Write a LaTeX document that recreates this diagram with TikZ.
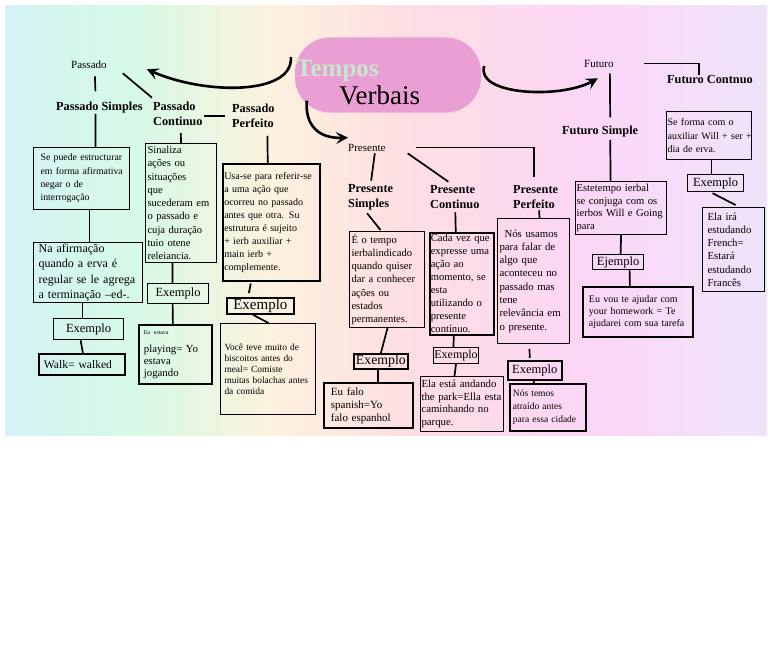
\documentclass[tikz,border=0pt]{standalone}
\usepackage{fontspec}
\setmainfont{Liberation Serif}
\usetikzlibrary{calc,arrows.meta}

\definecolor{washA}{RGB}{212,242,245}
\definecolor{washB}{RGB}{214,250,230}
\definecolor{washC}{RGB}{252,242,222}
\definecolor{washD}{RGB}{253,222,226}
\definecolor{washE}{RGB}{252,214,246}
\definecolor{washF}{RGB}{238,228,250}
\definecolor{blobpink}{RGB}{233,158,212}
\definecolor{mint}{RGB}{200,232,202}

\pgfdeclarehorizontalshading{wash}{100bp}{color(0bp)=(washA); color(25bp)=(washA); color(33.5bp)=(washB); color(42.5bp)=(washC); color(51bp)=(washD); color(63bp)=(washE); color(75bp)=(washF); color(100bp)=(washF)}

\begin{document}
\begin{tikzpicture}[x=1pt,y=1pt,yscale=-1,
		heading/.style={inner sep=1pt, align=left, font=\bfseries\fontsize{12.3}{15}\selectfont},
		branch/.style={inner sep=1pt, font=\fontsize{11}{13}\selectfont},
		card/.style={draw, anchor=north west, align=left, line width=1pt, inner xsep=2pt, inner ysep=1pt, font=\fontsize{10.6}{13.3}\selectfont},
		exbox/.style={draw, anchor=north west, line width=1.2pt, inner sep=0pt, font=\fontsize{12.5}{14}\selectfont},
		link/.style={line width=1.7pt},
		bigarrow/.style={line width=2.6pt, -{Stealth[length=12pt,width=12pt,inset=5pt]}},
		titleblob/.style={fill=blobpink, rounded corners=35pt, minimum width=186pt, minimum height=75pt, inner sep=0pt}]

		% Set the page size and the coloured wash behind the map
		\useasboundingbox (0,0) rectangle (768,669);
		\fill[white] (0,0) rectangle (768,669);
		\shade[shading=wash] (5,6) rectangle (767,435);

		% Draw the pink title blob and its two words
		\node[titleblob] (title) at (388,75) {};
		\node[anchor=base west, inner sep=0pt, text=mint, font=\bfseries\fontsize{25}{28}\selectfont] (tempos) at (296,76) {Tempos};
		\node[anchor=base west, inner sep=0pt, font=\fontsize{27}{30}\selectfont] (verbais) at (339,104) {Verbais};

		% The labels of the "Passado" branch
		\node[branch, anchor=base west] (passado) at (70,69) {Passado};
		\node[heading, anchor=base west] (psimp) at (55,110) {Passado Simples};
		\node[heading, anchor=north west] (pcont) at (152,100.7) {Passado\\Continuo};
		\node[heading, anchor=north west] (pperf) at (231,102.7) {Passado\\Perfeito};

		% The boxes below "Passado Simples"
		\node[card, line width=1.2pt, text width=92pt, inner xsep=2pt, minimum height=62pt, font=\fontsize{9.8}{13.3}\selectfont] (ps_def) at (33,147) {\hspace*{5pt}Se puede estructurar\\\hspace*{5pt}em forma afirmativa\\\hspace*{5pt}negar o de\\\hspace*{5pt}interrogação};
		\node[card, line width=1.2pt, text width=99pt, inner xsep=5pt, minimum height=60pt, font=\fontsize{12}{15.4}\selectfont] (ps_rule) at (33,242) {Na afirmação\\quando a erva é\\regular se le agrega\\a terminação --ed-.};
		\node[exbox, minimum width=70pt, minimum height=21pt] (ps_ex) at (53,318) {Exemplo};
		\node[card, line width=1.8pt, text width=76pt, inner xsep=5pt, minimum height=21pt, font=\fontsize{11.6}{14}\selectfont] (ps_walk) at (38,353) {Walk= walked};

		% The boxes below "Passado Continuo"
		\node[card, text width=67pt, minimum height=119pt] (pc_def) at (145,143) {Sinaliza\\ações ou\\situações\\que\\sucederam em\\o passado e\\cuja duração\\tuio otene\\releiancia.};
		\node[exbox, minimum width=61pt, minimum height=20pt] (pc_ex) at (147,283) {Exemplo};
		\node[card, line width=1.8pt, text width=63pt, inner xsep=5pt, minimum height=59pt, font=\fontsize{10.8}{12}\selectfont] (pc_walk) at (138,324) {{\fontsize{5.8}{7}\selectfont Eu estava}\\[6pt]playing= Yo\\estava\\jogando};

		% The boxes below "Passado Perfeito"
		\node[card, line width=1.5pt, text width=94pt, inner xsep=1.5pt, minimum height=117pt, font=\fontsize{10}{13}\selectfont] (pp_def) at (222,163) {Usa-se para referir-se\\a uma ação que\\ocorreu no passado\\antes que otra. Su\\estrutura é sujeito\\+ ierb auxiliar +\\main ierb +\\complemente.};
		\node[exbox, line width=1.8pt, minimum width=67pt, minimum height=16pt, font=\fontsize{15}{16}\selectfont] (pp_ex) at (226,297) {Exemplo};
		\node[card, text width=87pt, inner xsep=4pt, minimum height=91pt, font=\fontsize{9.4}{11}\selectfont] (pp_walk) at (220,323) {Você teve muito de\\biscoitos antes do\\meal= Comiste\\muitas bolachas antes\\da comida};

		% The labels of the "Presente" branch
		\node[branch, anchor=base west] (presente) at (347,151) {Presente};
		\node[heading, anchor=north west] (prsimp) at (347,183.7) {Presente\\Simples};
		\node[heading, anchor=north west] (prcont) at (429,184.7) {Presente\\Continuo};
		\node[heading, anchor=north west] (prperf) at (512,184.7) {Presente\\Perfeito};

		% The boxes below "Presente Simples"
		\node[card, text width=71pt, minimum height=96pt] (prs_def) at (349,231) {É o tempo\\ierbalindicado\\quando quiser\\dar a conhecer\\ações ou\\estados\\permanentes.};
		\node[exbox, line width=1.8pt, minimum width=54pt, minimum height=15pt, font=\fontsize{13.8}{15}\selectfont] (prs_ex) at (353,353) {Exemplo};
		\node[card, line width=1.8pt, text width=75pt, inner xsep=7pt, minimum height=45pt, font=\fontsize{11}{13}\selectfont] (prs_walk) at (323,382) {Eu falo\\spanish=Yo\\falo espanhol};

		% The boxes below "Presente Continuo"
		\node[card, line width=1.5pt, text width=62pt, inner xsep=1pt, minimum height=102pt, font=\fontsize{10.6}{13}\selectfont] (prc_def) at (429,232) {Cada vez que\\expresse uma\\ação ao\\momento, se\\esta\\utilizando o\\presente\\contínuo.};
		\node[exbox, line width=1pt, minimum width=45pt, minimum height=16pt, font=\fontsize{12}{14}\selectfont] (prc_ex) at (433,347) {Exemplo};
		\node[card, text width=81pt, inner xsep=1pt, minimum height=55pt, font=\fontsize{10.8}{12.5}\selectfont] (prc_walk) at (420,376) {Ela está andando\\the park=Ella esta\\caminhando no\\parque.};

		% The boxes below "Presente Perfeito"
		\node[card, text width=68pt, minimum height=125pt, font=\fontsize{10.8}{13.3}\selectfont] (prp_def) at (497,218) {\hspace*{5pt}Nós usamos\\para falar de\\algo que\\aconteceu no\\passado mas\\tene\\relevância em\\o presente.};
		\node[exbox, line width=1.5pt, minimum width=54pt, minimum height=19pt] (prp_ex) at (507,360) {Exemplo};
		\node[card, line width=1.8pt, text width=70pt, inner xsep=3pt, minimum height=47pt, font=\fontsize{9.5}{13.3}\selectfont] (prp_walk) at (509,383) {Nós temos\\atraído antes\\para essa cidade};

		% The labels of the "Futuro" branch
		\node[branch, anchor=base west] (futuro) at (583,67) {Futuro};
		\node[heading, anchor=base west] (fcont) at (666,84) {Futuro Contnuo};
		\node[heading, anchor=base west] (fsimp) at (561,134) {Futuro Simple};

		% The boxes below "Futuro Simple"
		\node[card, line width=1.2pt, text width=89pt, inner xsep=1pt, minimum height=53pt, font=\fontsize{10.6}{12.6}\selectfont] (fs_def) at (575,181) {Estetempo ierbal\\se conjuga com os\\ierbos Will e Going\\para};
		\node[exbox, minimum width=51pt, minimum height=15pt] (fs_ex) at (592,254) {Ejemplo};
		\node[card, line width=1.8pt, text width=98pt, inner xsep=6pt, minimum height=50pt, font=\fontsize{10}{12}\selectfont] (fs_walk) at (582,286) {Eu vou te ajudar com\\your homework = Te\\ajudarei com sua tarefa};

		% The boxes below "Futuro Contnuo"
		\node[card, line width=1.2pt, text width=83pt, inner xsep=1pt, minimum height=48pt, font=\fontsize{10}{13.3}\selectfont] (fc_def) at (666,111) {Se forma com o\\\mbox{auxiliar Will + ser +}\\dia de erva.};
		\node[exbox, minimum width=56pt, minimum height=17pt] (fc_ex) at (687,174) {Exemplo};
		\node[card, line width=1.2pt, text width=52pt, inner xsep=5pt, minimum height=84pt, font=\fontsize{10.8}{13.3}\selectfont] (fc_walk) at (702,207) {Ela irá\\estudando\\French=\\Estará\\estudando\\Francês};

		% Draw the three curved arrows leaving the title
		\draw[bigarrow] ($(title.west)+(-4,-18)$) .. controls +(3,38) and +(59,26) .. ($(passado.east)+(39,4)$);
		\draw[bigarrow] ($(title.east)+(3,-9)$) .. controls +(-9,29) and +(-38,21) .. ($(futuro.south)+(-1,10)$);
		\draw[bigarrow] ($(title.south west)+(12,-12)$) .. controls +(-2,25) and +(-29,1) .. ($(presente.north west)+(1,-5)$);

		% Connectors of the "Passado" branch
		\draw[link] ($(passado.south)+(6,6)$) -- ($(psimp.north)+(-4,-9)$);
		\draw[link] ($(passado.south east)+(15,3)$) -- ($(pcont.north west)+(0,-3)$);
		\draw[link] (pcont.east |- pperf.west) -- ($(pperf.west)+(-6,0)$);
		\draw[link] ($(psimp.south)+(-4,0)$) -- ($(ps_def.north)+(14,0)$);
		\draw[link] ($(ps_def.south)+(8,0)$) -- ($(ps_rule.north)+(1.5,0)$);
		\draw[link] ($(ps_rule.south)+(-5.5,0)$) -- ($(ps_ex.north)+(-6,0)$);
		\draw[link] ($(ps_ex.south)+(-8,0)$) -- ($(ps_walk.north)+(1,0)$);
		\draw[link] ($(pcont.south)+(3,6)$) -- (pc_def.north);
		\draw[link] ($(pc_def.south)+(-8.5,0)$) -- ($(pc_ex.north)+(-5.5,0)$);
		\draw[link] ($(pc_ex.south)+(-5.5,0)$) -- ($(pc_walk.north)+(-2.5,0)$);
		\draw[link] ($(pperf.south)+(14,7)$) -- ($(pp_def.north)+(-3.5,0)$);
		\draw[link] ($(pp_def.south)+(-20.5,2)$) -- ($(pp_ex.north)+(-11.5,-4)$);
		\draw[link] ($(pp_ex.south)+(-7.5,0)$) -- ($(pp_walk.north)+(0.5,0)$);

		% Connectors of the "Presente" branch
		\draw[link] ($(presente.south)+(8,1)$) -- ($(prsimp.north)+(0.5,-3)$);
		\draw[link] ($(presente.south east)+(21,1)$) -- ($(prcont.north)+(-6.5,-3)$);
		\draw[link] ($(presente.east)+(29,0)$) -| ($(prperf.north)+(-1.5,-8)$);
		\draw[link] ($(prsimp.south)+(-3.5,1.5)$) -- ($(prs_def.north)+(-6.5,-1)$);
		\draw[link] ($(prs_def.south)+(0.5,0)$) -- (prs_ex.north);
		\draw[link] ($(prs_ex.south)+(-3,0)$) -- ($(prs_walk.north)+(9.5,0)$);
		\draw[link] ($(prcont.south)+(0.5,2)$) -- ($(prc_def.north)+(-6,0)$);
		\draw[link] ($(prc_def.south)+(-8,0)$) -- ($(prc_ex.north)+(-2.5,0)$);
		\draw[link] (prc_ex.south) -- ($(prc_walk.north)+(-7.5,0)$);
		\draw[link] ($(prperf.south)+(3.5,0)$) -- ($(prp_def.north)+(6,0)$);
		\draw[link] ($(prp_def.south)+(-4,5)$) -- ($(prp_ex.north)+(-5,-2)$);
		\draw[link] ($(prp_ex.south)+(-1,0)$) -- ($(prp_walk.north)+(-14,0)$);

		% Connectors of the "Futuro" branch
		\draw[link] ($(futuro.south)+(11,5)$) -- ($(fsimp.north)+(10,-7)$);
		\draw[link] ($(futuro.east)+(29,0)$) -| ($(fcont.north)+(-11,0)$);
		\draw[link] ($(fsimp.south)+(10,2)$) -- ($(fs_def.north)+(-10.5,0)$);
		\draw[link] (fs_def.south) -- ($(fs_ex.north)+(2.5,0)$);
		\draw[link] ($(fs_ex.south)+(11.5,0)$) -- ($(fs_walk.north)+(-8,0)$);
		\draw[link] ($(fc_def.south)+(2.5,0)$) -- ($(fc_ex.north)+(-4,0)$);
		\draw[link] ($(fc_ex.south)+(-3,1)$) -- ($(fc_walk.north)+(2,-2)$);
	\end{tikzpicture}
\end{document}
